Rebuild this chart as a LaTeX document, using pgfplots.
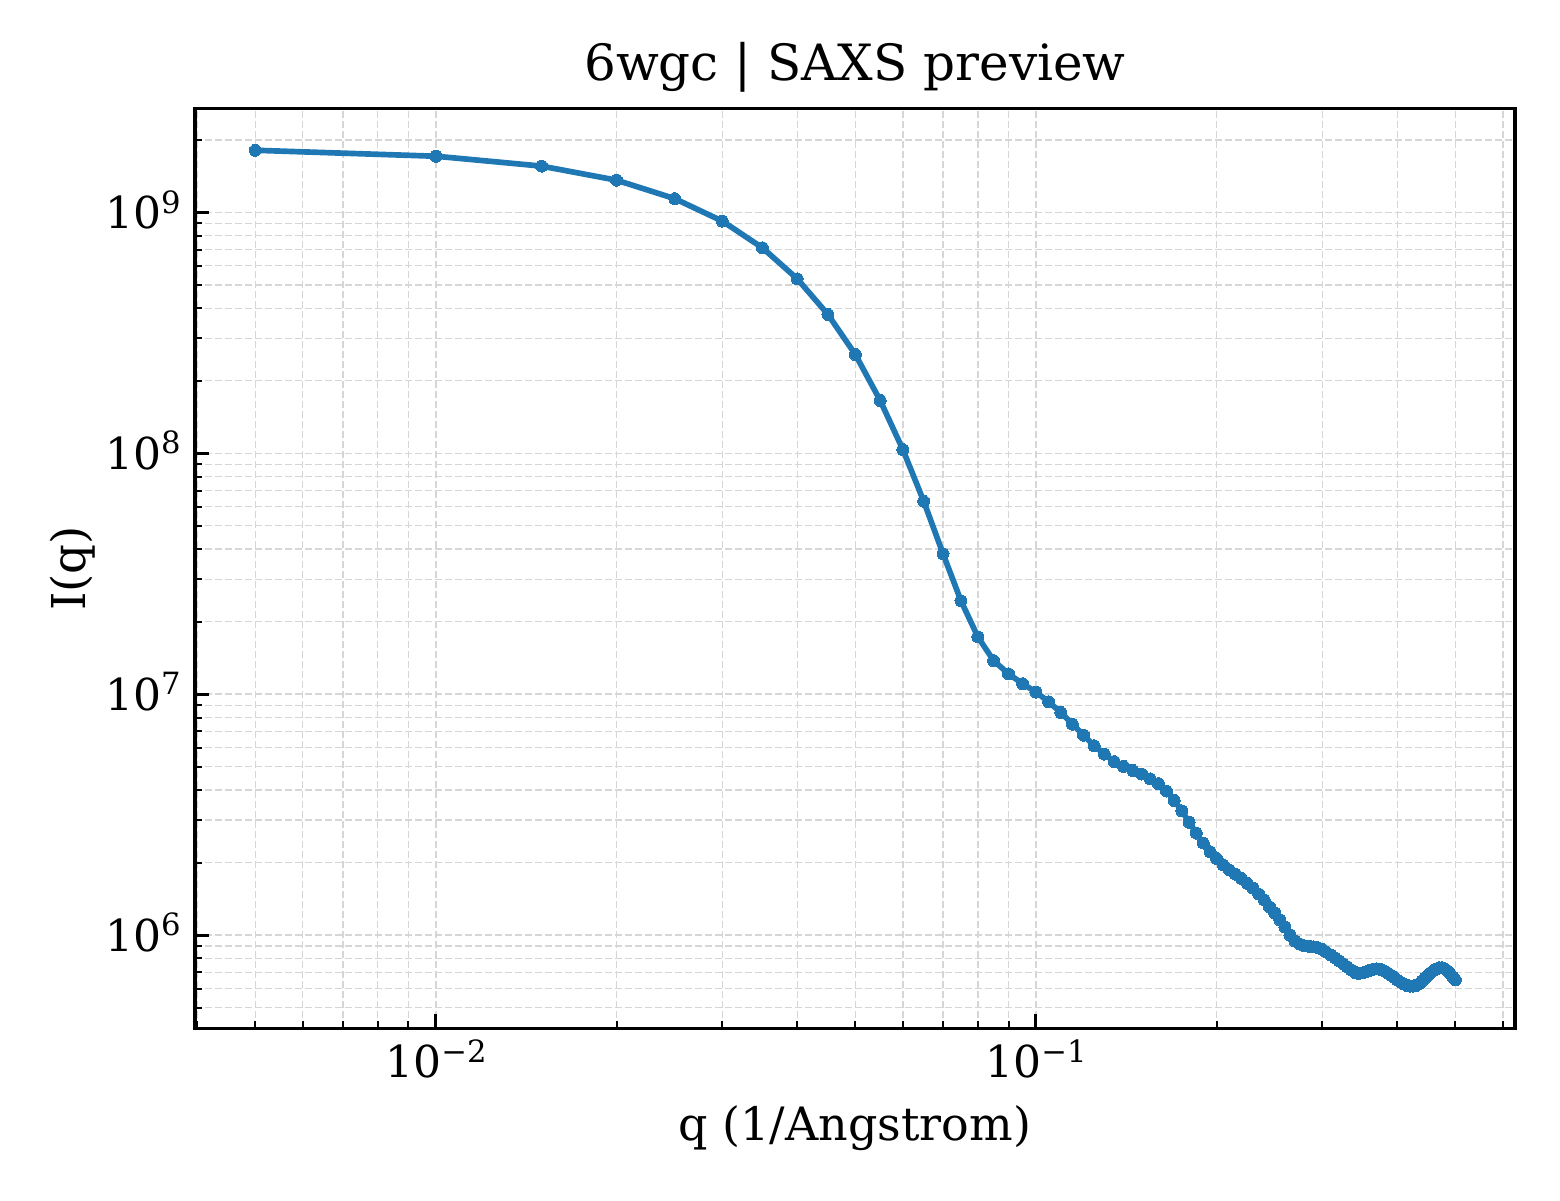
\documentclass[border=0pt]{standalone}
\usepackage{fontspec}
\setmainfont{DejaVu Serif}
\usepackage{pgfplots}
\pgfplotsset{compat=1.18}
\usepackage{pgfplotstable}

\definecolor{mplblue}{RGB}{31,119,180}
\definecolor{gridgray}{RGB}{214,214,214}

% 10^k label in text font
\newcommand\pw[1]{10\raisebox{4.6pt}{\fontsize{9.2}{10}\selectfont #1}}

\pgfplotstableread{
q      I
0.005  1.81e9
0.010  1.71e9
0.015  1.556e9
0.020  1.36e9
0.025  1.14e9
0.030  9.2e8
0.035  7.13e8
0.040  5.30e8
0.045  3.77e8
0.050  2.57e8
0.055  1.656e8
0.060  1.036e8
0.065  6.32e7
0.070  3.83e7
0.075  2.44e7
0.080  1.73e7
0.085  1.377e7
0.090  1.215e7
0.095  1.105e7
0.100  1.02e7
0.105  9.29e6
0.110  8.39e6
0.115  7.51e6
0.120  6.76e6
0.125  6.11e6
0.130  5.64e6
0.135  5.25e6
0.140  5.01e6
0.145  4.82e6
0.150  4.66e6
0.155  4.45e6
0.160  4.25e6
0.165  3.96e6
0.170  3.62e6
0.175  3.28e6
0.180  2.94e6
0.185  2.65e6
0.190  2.41e6
0.195  2.22e6
0.200  2.08e6
0.205  1.955e6
0.210  1.865e6
0.215  1.79e6
0.220  1.72e6
0.225  1.64e6
0.230  1.565e6
0.235  1.48e6
0.240  1.40e6
0.245  1.31e6
0.250  1.232e6
0.255  1.156e6
0.260  1.078e6
0.265  1.0e6
0.270  9.45e5
0.275  9.17e5
0.280  9.03e5
0.285  8.98e5
0.290  8.93e5
0.295  8.87e5
0.300  8.72e5
0.305  8.48e5
0.310  8.27e5
0.315  8.05e5
0.320  7.83e5
0.325  7.61e5
0.330  7.39e5
0.335  7.18e5
0.340  7.00e5
0.345  6.93e5
0.350  6.96e5
0.355  7.05e5
0.360  7.14e5
0.365  7.21e5
0.370  7.23e5
0.375  7.21e5
0.380  7.11e5
0.385  6.98e5
0.390  6.83e5
0.395  6.68e5
0.400  6.51e5
0.405  6.38e5
0.410  6.26e5
0.415  6.18e5
0.420  6.14e5
0.425  6.14e5
0.430  6.18e5
0.435  6.28e5
0.440  6.44e5
0.445  6.63e5
0.450  6.81e5
0.455  6.98e5
0.460  7.14e5
0.465  7.25e5
0.470  7.32e5
0.475  7.32e5
0.480  7.25e5
0.485  7.11e5
0.490  6.93e5
0.495  6.71e5
0.500  6.51e5
}\saxs

\begin{document}
\begin{tikzpicture}
\begin{axis}[
    at={(0,0)}, anchor=south west,
    scale only axis, width=396pt, height=276pt,
    xmode=log, ymode=log,
    xmin=0.003967, xmax=0.6285,
    ymin=4.1e5, ymax=2.703e9,
    xtick={0.01,0.1},
    xticklabels={\pw{−2},\pw{−1}},
    minor xtick={0.004,0.005,0.006,0.007,0.008,0.009,
                 0.02,0.03,0.04,0.05,0.06,0.07,0.08,0.09,
                 0.2,0.3,0.4,0.5,0.6},
    ytick={1e6,1e7,1e8,1e9},
    yticklabels={\pw{6},\pw{7},\pw{8},\pw{9}},
    minor ytick={5e5,6e5,7e5,8e5,9e5,
                 2e6,3e6,4e6,5e6,6e6,7e6,8e6,9e6,
                 2e7,3e7,4e7,5e7,6e7,7e7,8e7,9e7,
                 2e8,3e8,4e8,5e8,6e8,7e8,8e8,9e8,
                 2e9},
    tick align=inside,
    xtick pos=bottom, ytick pos=left,
    major tick length=4.2pt, minor tick length=2.1pt,
    major tick style={black, line width=0.9pt},
    minor tick style={black, line width=0.6pt},
    axis line style={line width=1pt},
    grid=both,
    major grid style={gridgray, line width=0.4pt, dash pattern=on 2.2pt off 0.8pt},
    minor grid style={gridgray, line width=0.4pt, dash pattern=on 2.2pt off 0.8pt},
    tick label style={font=\fontsize{13.2}{15}\selectfont},
    xticklabel style={anchor=base, yshift=-14.7pt},
    yticklabel style={anchor=east, xshift=-0.8pt, yshift=0.8pt},
    title={6wgc | SAXS preview},
    title style={font=\fontsize{15}{18}\selectfont, at={(axis description cs:0.5,1)}, anchor=base, yshift=2.4pt},
    xlabel={q (1/Angstrom)},
    xlabel style={font=\fontsize{13.8}{17}\selectfont, at={(axis description cs:0.5,0)}, anchor=base, yshift=-33.6pt},
    ylabel={I(q)},
    ylabel style={font=\fontsize{14}{17}\selectfont, at={(axis description cs:-0.0833,0.5)}, anchor=base, rotate=0},
]
\addplot[mplblue, line width=1.7pt, mark=*, mark size=1.8pt,
         mark options={fill=mplblue, draw=mplblue, line width=0pt}]
    table[x=q, y=I] {\saxs};
\end{axis}
\pgfresetboundingbox
\useasboundingbox (-58.5pt,-51.5pt) rectangle (409.5pt,308.5pt);
\end{tikzpicture}
\end{document}
